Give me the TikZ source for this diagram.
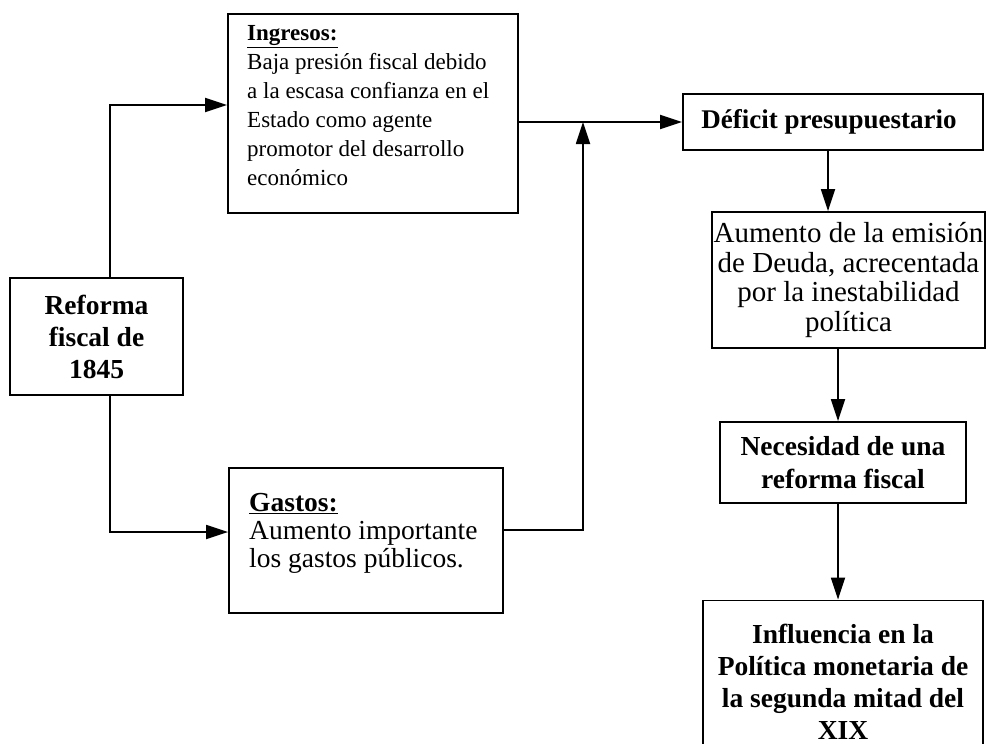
\documentclass[tikz,border=0pt]{standalone}
\usepackage{fontspec}
\setmainfont{Liberation Serif}
\usetikzlibrary{arrows.meta}
\begin{document}
\begin{tikzpicture}[x=1pt,y=-1pt,
  box/.style={draw, line width=1.8pt, inner sep=0pt},
  arr/.style={line width=1.8pt, -{Triangle[length=22pt,width=14pt]}},
  bftext/.style={font=\bfseries\fontsize{27.5}{32.5}\selectfont, align=center},
  rgtext/.style={font=\fontsize{29}{29.5}\selectfont, align=center}]
\useasboundingbox (0,0) rectangle (986,744);
\clip (0,0) rectangle (986,744);

\node[box, minimum width=173pt, minimum height=117pt, bftext, font=\bfseries\fontsize{27.5}{32}\selectfont] (ref) at (96.5,336.5) {Reforma\\fiscal de\\1845};

\node[box, minimum width=290pt, minimum height=199pt] (ing) at (373,113.5) {};
\node[anchor=north west, inner sep=0pt, align=left, font=\fontsize{23}{29}\selectfont] (ingt) at (247,25)
  {\underline{\textbf{Ingresos:}}\\Baja presión fiscal debido\\a la escasa confianza en el\\Estado como agente\\promotor del desarrollo\\económico};

\node[box, minimum width=274pt, minimum height=145pt] (gas) at (366,540.5) {};
\node[anchor=north west, inner sep=0pt, align=left, font=\fontsize{27.5}{28}\selectfont] (gast) at (249,493)
  {\underline{\textbf{Gastos:}}\\Aumento importante\\los gastos públicos.};

\node[box, minimum width=300pt, minimum height=56pt, bftext, font=\bfseries\fontsize{27}{32}\selectfont] (def) at (833,122) {\hspace*{-8pt}Déficit presupuestario};
\node[box, minimum width=273pt, minimum height=136pt, rgtext] (aum) at (848.5,280) {Aumento de la emisión\\de Deuda, acrecentada\\por la inestabilidad\\política};
\node[box, minimum width=246pt, minimum height=81pt, bftext] (nec) at (843,462.5) {Necesidad de una\\reforma fiscal};
\node[box, minimum width=280pt, minimum height=163pt, bftext, font=\bfseries\fontsize{27.5}{32}\selectfont] (inf) at (843,682) {Influencia en la\\Política monetaria de\\la segunda mitad del\\XIX};

\coordinate (jn) at (583,122);

\draw[arr] ([xshift=13.5pt]ref.north) |- ([yshift=8.5pt]ing.west);
\draw[arr] ([xshift=13.5pt]ref.south) |- ([yshift=8.5pt]gas.west);
\draw[arr] (ing.east |- def.west) -- (def.west);
\draw[arr] ([yshift=10.5pt]gas.east) -| (jn);
\draw[arr] ([xshift=-5pt]def.south) -- ([xshift=-20.5pt]aum.north);
\draw[arr] ([xshift=-10.5pt]aum.south) -- ([xshift=-5pt]nec.north);
\draw[arr] ([xshift=-5pt]nec.south) -- ([xshift=-5pt]inf.north);
\end{tikzpicture}
\end{document}
